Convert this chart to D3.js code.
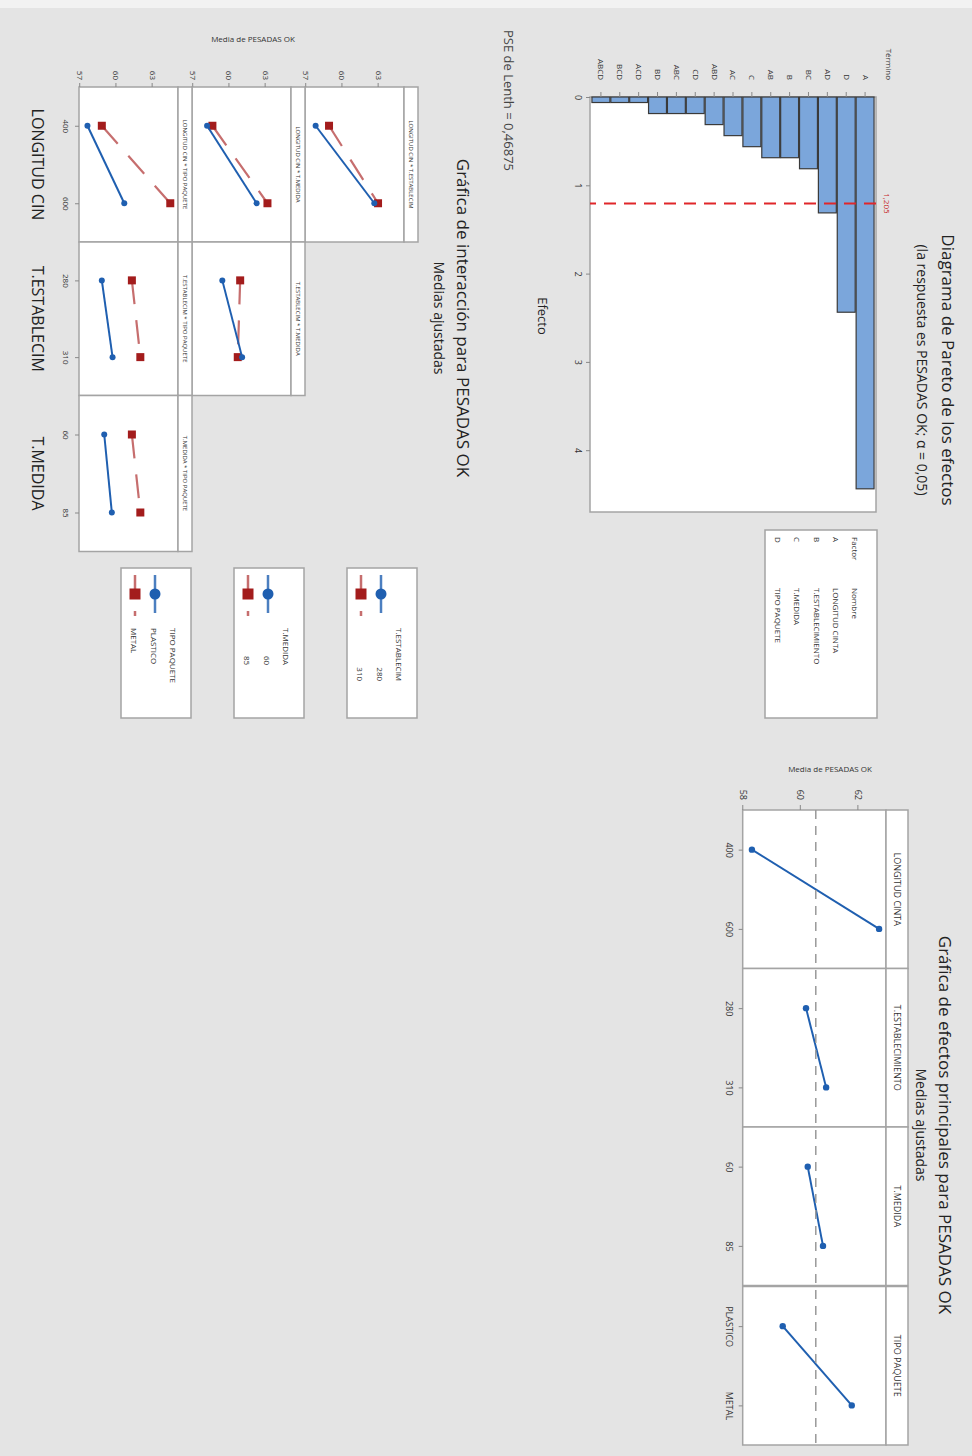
<!DOCTYPE html>
<html>
<head>
<meta charset="utf-8">
<script src="https://cdn.jsdelivr.net/npm/d3@7"></script>
<style>
  body { margin: 0; background: #e4e4e4; }
  svg text { font-family: "Open Sans", sans-serif; fill: #333; }
</style>
</head>
<body>
<div id="chart"></div>
<script>
// Pareto data
const paretoTerms = ["A", "D", "AD", "BC", "B", "AB", "C", "AC", "ABD", "CD", "ABC", "BD", "ACD", "BCD", "ABCD"];
const paretoEffects = [4.4375, 2.4375, 1.3125, 0.8125, 0.6875, 0.6875, 0.5625, 0.4375, 0.3125, 0.1875, 0.1875, 0.1875, 0.0625, 0.0625, 0.0625];
const paretoTicks = [0, 1, 2, 3, 4];
const lenthLimit = 1.205;
const factorCodes = ["A", "B", "C", "D"];
const factorNames = ["LONGITUD CINTA", "T.ESTABLECIMIENTO", "T.MEDIDA", "TIPO PAQUETE"];

// Main effects data
const mainLevels = [["400", "600"], ["280", "310"], ["60", "85"], ["PLASTICO", "METAL"]];
const mainMeans = [[58.30, 62.72], [60.18, 60.88], [60.24, 60.77], [59.37, 61.77]];
const grandMean = 60.52;
const mainTicks = [58, 60, 62];

// Interaction data: [first level of trace factor, second level]
const interFactors = ["LONGITUD CIN", "T.ESTABLECIM", "T.MEDIDA", "TIPO PAQUETE"];
const interTicks = [57, 60, 63];
const estabByLongitud = [[57.78, 62.64], [58.89, 62.95]];
const medidaByLongitud = [[58.15, 62.25], [58.59, 63.15]];
const medidaByEstab = [[59.41, 61.05], [60.89, 60.69]];
const tipoByLongitud = [[57.60, 60.65], [58.79, 64.46]];
const tipoByEstab = [[58.79, 59.68], [61.28, 61.98]];
const tipoByMedida = [[58.99, 59.62], [61.28, 61.98]];

const blue = "#1f5fb0";
const red = "#a31c1c";
const frame = "#a4a4a4";

const svg = d3.select("#chart").append("svg")
    .attr("width", 972)
    .attr("height", 1456);

svg.append("rect").attr("width", 972).attr("height", 1456).attr("fill", "#e4e4e4");
svg.append("rect").attr("width", 972).attr("height", 8).attr("fill", "#f2f2f2");

// the whole page is turned a quarter turn clockwise
const g = svg.append("g").attr("transform", "translate(972,0) rotate(90)");

function addText(x, y, txt, size, anchor, color) {
    return g.append("text")
        .attr("x", x)
        .attr("y", y)
        .attr("text-anchor", anchor || "start")
        .style("font-size", size + "px")
        .style("fill", color || "#333")
        .text(txt);
}

function styleAxis(sel, size) {
    sel.attr("font-family", "Open Sans, sans-serif").attr("font-size", size);
    sel.select(".domain").remove();
    sel.selectAll(".tick line").attr("stroke", "#888");
    sel.selectAll(".tick text").style("fill", "#333");
}

// ---------------- Pareto ----------------
addText(370, 30, "Diagrama de Pareto de los efectos", 17, "middle", "#222");
addText(370, 55, "(la respuesta es PESADAS OK; α = 0,05)", 14, "middle", "#222");

const pX = d3.scaleLinear().domain([0, 4.7]).range([97, 512]);
const pY = d3.scaleBand().domain(paretoTerms).range([97, 381]).paddingInner(0.05).paddingOuter(0.05);

g.append("rect")
    .attr("x", 97).attr("y", 96)
    .attr("width", 415).attr("height", 286)
    .attr("fill", "#fff")
    .attr("stroke", frame).attr("stroke-width", 1.5);

g.selectAll(".pbar")
    .data(paretoEffects)
    .join("rect")
    .attr("class", "pbar")
    .attr("x", pX(0))
    .attr("y", (d, i) => pY(paretoTerms[i]))
    .attr("width", d => pX(d) - pX(0))
    .attr("height", pY.bandwidth())
    .attr("fill", "#7ba6db")
    .attr("stroke", "#3a3a3a")
    .attr("stroke-width", 1.2);

g.append("line")
    .attr("x1", pX(lenthLimit)).attr("x2", pX(lenthLimit))
    .attr("y1", 96).attr("y2", 382)
    .attr("stroke", "#e0262a").attr("stroke-width", 2)
    .attr("stroke-dasharray", "12,8");
addText(pX(lenthLimit), 88, "1,205", 8, "middle", "#c62828");

g.append("g")
    .attr("transform", "translate(0,382)")
    .call(d3.axisBottom(pX).tickValues(paretoTicks).tickSize(4).tickPadding(5).tickFormat(d3.format("d")))
    .call(s => styleAxis(s, 9));

g.append("g")
    .attr("transform", "translate(97,0)")
    .call(d3.axisLeft(pY).tickSize(5).tickPadding(12))
    .call(s => styleAxis(s, 8));

addText(80, 86, "Término", 8, "end");
addText(316, 434, "Efecto", 13, "middle", "#222");
addText(30, 468, "PSE de Lenth = 0,46875", 13, "start", "#444");

// factor legend
g.append("rect")
    .attr("x", 530).attr("y", 95)
    .attr("width", 188).attr("height", 112)
    .attr("fill", "#fff").attr("stroke", frame).attr("stroke-width", 1.5);
addText(537, 120, "Factor", 8);
addText(588, 120, "Nombre", 8);
factorCodes.forEach((c, i) => {
    addText(537, 139 + i * 19.5, c, 8);
    addText(588, 139 + i * 19.5, factorNames[i], 8);
});

// ---------------- Main effects ----------------
addText(1125, 33, "Gráfica de efectos principales para PESADAS OK", 17, "middle", "#222");
addText(1125, 56, "Medias ajustadas", 14, "middle", "#222");

const mStarts = [810, 968.5, 1127, 1286.5];
const mWidth = 158.5;
const mY = d3.scaleLinear().domain([57.98, 62.96]).range([229.3, 86]);

mainLevels.forEach((levels, i) => {
    const x0 = mStarts[i];
    const mX = d3.scalePoint().domain(levels).range([x0, x0 + mWidth]).padding(0.5);

    g.append("rect")
        .attr("x", x0).attr("y", 86)
        .attr("width", mWidth).attr("height", 143.3)
        .attr("fill", "#fff").attr("stroke", frame).attr("stroke-width", 1.5);
    g.append("rect")
        .attr("x", x0).attr("y", 64)
        .attr("width", mWidth).attr("height", 22)
        .attr("fill", "#fff").attr("stroke", frame).attr("stroke-width", 1.5);
    addText(x0 + mWidth / 2, 78, factorNames[i], 9, "middle");

    g.append("g")
        .attr("transform", "translate(0,229.3)")
        .call(d3.axisBottom(mX).tickSize(4).tickPadding(6))
        .call(s => styleAxis(s, 9));

    const pts = levels.map((l, j) => [mX(l), mY(mainMeans[i][j])]);
    g.append("path")
        .attr("d", d3.line()(pts))
        .attr("fill", "none").attr("stroke", blue).attr("stroke-width", 2);
    g.selectAll(null)
        .data(pts)
        .join("circle")
        .attr("cx", d => d[0]).attr("cy", d => d[1])
        .attr("r", 3.2).attr("fill", blue);
});

g.append("line")
    .attr("x1", mStarts[0]).attr("x2", mStarts[3] + mWidth)
    .attr("y1", mY(grandMean)).attr("y2", mY(grandMean))
    .attr("stroke", "#999").attr("stroke-width", 1.5)
    .attr("stroke-dasharray", "9,7");

g.append("g")
    .attr("transform", "translate(810,0)")
    .call(d3.axisLeft(mY).tickValues(mainTicks).tickSize(5).tickPadding(5).tickFormat(d3.format("d")))
    .call(s => styleAxis(s, 9));

g.append("text")
    .attr("transform", "translate(772,142) rotate(-90)")
    .attr("text-anchor", "middle")
    .style("font-size", "8px")
    .text("Media de PESADAS OK");

// ---------------- Interaction ----------------
addText(318, 515, "Gráfica de interacción para PESADAS OK", 17, "middle", "#222");
addText(318, 538, "Medias ajustadas", 14, "middle", "#222");

const iStarts = [87, 242, 395.5];
const iWidth = [155, 153.5, 156];
const rowTops = [554, 667, 780];
const rowH = 113, stripH = 14;

const interCells = [
    { row: 0, col: 0, means: estabByLongitud },
    { row: 1, col: 0, means: medidaByLongitud },
    { row: 1, col: 1, means: medidaByEstab },
    { row: 2, col: 0, means: tipoByLongitud },
    { row: 2, col: 1, means: tipoByEstab },
    { row: 2, col: 2, means: tipoByMedida }
];

const rowScales = rowTops.map(t => d3.scaleLinear().domain([56.9, 65.1]).range([t + rowH, t + stripH]));
const colScales = iStarts.map((s, c) => d3.scalePoint().domain(mainLevels[c]).range([s, s + iWidth[c]]).padding(0.5));

interCells.forEach(cell => {
    const top = rowTops[cell.row];
    const x0 = iStarts[cell.col];
    const w = iWidth[cell.col];
    const iY = rowScales[cell.row];
    const iX = colScales[cell.col];
    const trace = cell.row + 1;

    g.append("rect")
        .attr("x", x0).attr("y", top + stripH)
        .attr("width", w).attr("height", rowH - stripH)
        .attr("fill", "#fff").attr("stroke", frame).attr("stroke-width", 1.5);
    g.append("rect")
        .attr("x", x0).attr("y", top)
        .attr("width", w).attr("height", stripH)
        .attr("fill", "#fff").attr("stroke", frame).attr("stroke-width", 1.5);
    addText(x0 + w / 2, top + 9.5, interFactors[cell.col] + " * " + interFactors[trace], 6, "middle");

    const lv = mainLevels[cell.col];
    const bluePts = lv.map((l, j) => [iX(l), iY(cell.means[0][j])]);
    const redPts = lv.map((l, j) => [iX(l), iY(cell.means[1][j])]);

    g.append("path")
        .attr("d", d3.line()(redPts))
        .attr("fill", "none").attr("stroke", "#b84a4a").attr("stroke-width", 2.2)
        .attr("stroke-opacity", 0.8)
        .attr("stroke-dasharray", "24,16");
    g.selectAll(null)
        .data(redPts)
        .join("rect")
        .attr("x", d => d[0] - 4).attr("y", d => d[1] - 4)
        .attr("width", 8).attr("height", 8)
        .attr("fill", red);

    g.append("path")
        .attr("d", d3.line()(bluePts))
        .attr("fill", "none").attr("stroke", blue).attr("stroke-width", 2);
    g.selectAll(null)
        .data(bluePts)
        .join("circle")
        .attr("cx", d => d[0]).attr("cy", d => d[1])
        .attr("r", 3).attr("fill", blue);

    if (cell.col === 0) {
        g.append("g")
            .attr("transform", `translate(${x0},0)`)
            .call(d3.axisLeft(iY).tickValues(interTicks).tickSize(4).tickPadding(3).tickFormat(d3.format("d")))
            .call(s => styleAxis(s, 8));
    }
    if (cell.row === 2) {
        g.append("g")
            .attr("transform", `translate(0,${top + rowH})`)
            .call(d3.axisBottom(iX).tickSize(4).tickPadding(6))
            .call(s => styleAxis(s, 8));
        addText(x0 + w / 2, 940, interFactors[cell.col], 16, "middle", "#222");
    }
});

g.append("text")
    .attr("transform", "translate(42,719) rotate(-90)")
    .attr("text-anchor", "middle")
    .style("font-size", "8px")
    .text("Media de PESADAS OK");

// legends, one per trace factor
[1, 2, 3].forEach((f, r) => {
    const top = rowTops[r];
    g.append("rect")
        .attr("x", 568).attr("y", top + 1)
        .attr("width", 150).attr("height", 70)
        .attr("fill", "#fff").attr("stroke", frame).attr("stroke-width", 1.5);

    const title = addText(628, top + 22, interFactors[f], 8);
    const tEnd = 628 + title.node().getComputedTextLength();
    const numeric = !isNaN(+mainLevels[f][0]);
    mainLevels[f].forEach((l, j) => {
        const yy = top + 38 + j * 20;
        if (numeric) addText(tEnd, yy + 3, l, 8, "end");
        else addText(628, yy + 3, l, 8);
    });

    const yb = top + 37, yr = top + 57;
    g.append("line")
        .attr("x1", 575).attr("x2", 613).attr("y1", yb).attr("y2", yb)
        .attr("stroke", blue).attr("stroke-width", 2.5).attr("stroke-opacity", 0.8);
    g.append("circle").attr("cx", 594).attr("cy", yb).attr("r", 5.5).attr("fill", blue);
    g.append("line")
        .attr("x1", 575).attr("x2", 616).attr("y1", yr).attr("y2", yr)
        .attr("stroke", "#b84a4a").attr("stroke-width", 2.5).attr("stroke-opacity", 0.8)
        .attr("stroke-dasharray", "24,12");
    g.append("rect").attr("x", 588.5).attr("y", yr - 5.5).attr("width", 11).attr("height", 11).attr("fill", red);
});
</script>
</body>
</html>
